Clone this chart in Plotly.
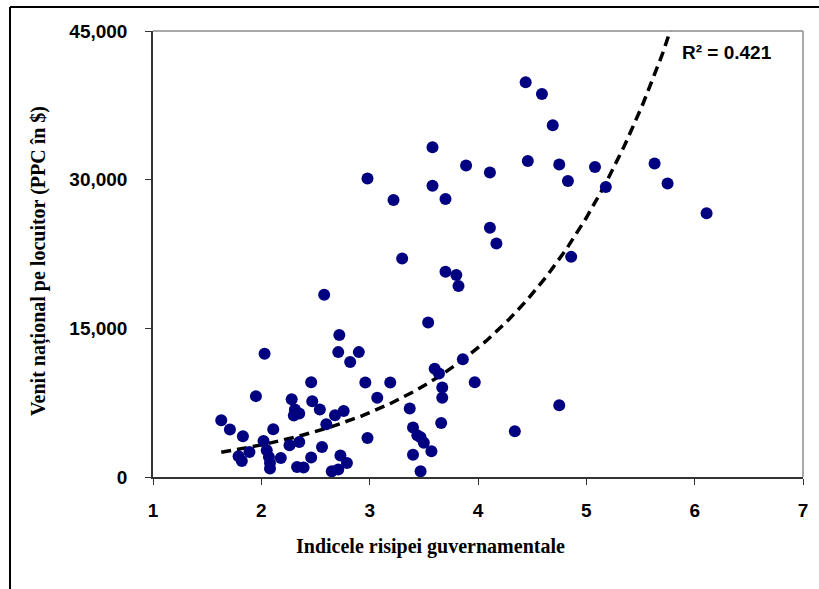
import numpy as np
import plotly.graph_objects as go

# Data
waste_index = [
    1.63, 1.71, 1.83, 1.89, 1.79, 1.82, 1.95, 2.03, 2.02, 2.05,
    2.07, 2.08, 2.08, 2.11, 2.18, 2.28, 2.31, 2.30, 2.35, 2.26,
    2.35, 2.33, 2.39, 2.46, 2.47, 2.54, 2.46, 2.56, 2.58, 2.60,
    2.72, 2.71, 2.90, 2.82, 2.96, 3.19, 3.07, 2.68, 2.76, 2.73,
    2.79, 2.65, 2.71, 2.98, 3.70, 3.80, 3.82, 3.54, 3.60, 3.64,
    3.86, 3.67, 3.67, 3.97, 3.37, 3.66, 3.40, 3.44, 3.47, 3.50,
    3.57, 3.40, 3.47, 4.34, 4.75, 4.44, 4.59, 4.69, 3.58, 2.98,
    3.89, 4.11, 4.46, 4.75, 4.83, 3.58, 3.70, 3.22, 4.11, 4.17,
    3.30, 4.86, 5.63, 5.75, 6.11, 5.08, 5.18,
]
income_ppp = [
    5730, 4790, 4110, 2530, 2090, 1620, 8160, 12430, 3640, 2700,
    2020, 1420, 850, 4820, 1920, 7850, 6810, 6200, 6410, 3200,
    3540, 1010, 950, 9570, 7650, 6810, 1960, 3030, 18400, 5330,
    14320, 12600, 12600, 11600, 9540, 9540, 7990, 6240, 6670, 2160,
    1420, 580, 750, 3940, 20720, 20390, 19280, 15600, 10920, 10450,
    11870, 9040, 7990, 9570, 6910, 5460, 4990, 4200, 4000, 3450,
    2600, 2250, 580, 4620, 7250, 39830, 38650, 35480, 33260, 30120,
    31440, 30730, 31880, 31540, 29860, 29380, 28040, 27940, 25140, 23550,
    22040, 22210, 31640, 29620, 26620, 31270, 29250,
]
x_ticks = [1, 2, 3, 4, 5, 6, 7]
y_ticks = [0, 15000, 30000, 45000]
r2_label = "R² = 0.421"
x_title = "Indicele risipei guvernamentale"
y_title = "Venit național pe locuitor (PPC în $)"

# Exponential trendline (least squares on ln y, as a spreadsheet does)
xs = np.array(waste_index, dtype=float)
ys = np.array(income_ppp, dtype=float)
b, ln_a = np.polyfit(xs, np.log(ys), 1)
trend_x = np.linspace(xs.min(), xs.max(), 300)
trend_y = np.exp(ln_a) * np.exp(b * trend_x)

W_FIG, H_FIG = 819, 589
L, R, T, B = 153, 16, 31, 112
PW, PH = W_FIG - L - R, H_FIG - T - B


def px(xp):
    return (xp - L) / PW


def py(yp):
    return (H_FIG - B - yp) / PH


fig = go.Figure()
fig.add_trace(go.Scatter(
    x=trend_x, y=trend_y, mode="lines",
    line=dict(color="black", width=3.5, dash="10px,6px"),
    hoverinfo="skip", showlegend=False,
))
fig.add_trace(go.Scatter(
    x=waste_index, y=income_ppp, mode="markers",
    marker=dict(color="#000080", size=12, line=dict(width=0)),
    showlegend=False,
))

tick_font = dict(family="Liberation Sans, Arial, sans-serif", size=19, color="black", weight="bold")
title_font = dict(family="Liberation Serif, Times New Roman, serif", size=20, color="black", weight="bold")

fig.update_layout(
    width=W_FIG, height=H_FIG,
    margin=dict(l=L, r=R, t=T, b=B, pad=0),
    paper_bgcolor="white", plot_bgcolor="white",
    xaxis=dict(
        range=[1, 7], tickvals=x_ticks, ticks="outside", ticklen=6, tickwidth=1,
        tickcolor="#333", showline=True, linecolor="#333", linewidth=1.5,
        showgrid=False, zeroline=False, tickfont=tick_font, ticklabelstandoff=9,
    ),
    yaxis=dict(
        range=[0, 45000], tickvals=y_ticks, tickformat=",d", ticks="outside",
        ticklen=6, tickwidth=1, tickcolor="#333", showline=True, linecolor="#333",
        linewidth=1.5, showgrid=False, zeroline=False, tickfont=tick_font,
        ticklabelstandoff=14,
    ),
    shapes=[
        # grey top and right frame of the plot area
        dict(type="line", xref="paper", yref="paper", x0=0, x1=1, y0=1, y1=1,
             line=dict(color="#8c8c8c", width=1.5)),
        dict(type="line", xref="paper", yref="paper", x0=1, x1=1, y0=0, y1=1,
             line=dict(color="#8c8c8c", width=1.5)),
        # outer chart border (left and top visible)
        dict(type="line", xref="paper", yref="paper", x0=px(10), x1=px(830),
             y0=py(7), y1=py(7), line=dict(color="black", width=2)),
        dict(type="line", xref="paper", yref="paper", x0=px(10), x1=px(10),
             y0=py(7), y1=py(600), line=dict(color="black", width=2)),
    ],
    annotations=[
        dict(text=x_title, xref="paper", yref="paper", x=px(430), y=py(546),
             xanchor="center", yanchor="middle", showarrow=False, font=title_font),
        dict(text=y_title, xref="paper", yref="paper", x=px(39), y=py(261),
             xanchor="center", yanchor="middle", showarrow=False, textangle=-90,
             font=title_font),
        dict(text=r2_label, xref="paper", yref="paper", x=px(727), y=py(52),
             xanchor="center", yanchor="middle", showarrow=False, font=tick_font),
    ],
)

fig.write_html("out.html")
